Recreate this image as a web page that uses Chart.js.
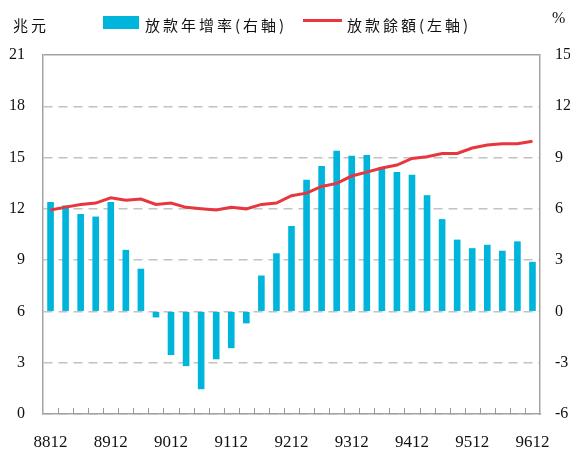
<!DOCTYPE html>
<html>
<head>
<meta charset="utf-8">
<script src="https://cdn.jsdelivr.net/npm/chart.js@4/dist/chart.umd.min.js"></script>
<style>
    body { margin: 0; background: #fff; }
    #wrap { position: relative; width: 570px; height: 450px; }
    .cjk { position: absolute; font-family: "Noto Sans CJK TC", "Noto Sans CJK SC", sans-serif; font-size: 15px; letter-spacing: 3px; color: #111; line-height: 15px; white-space: nowrap; }
    .unit { position: absolute; font-family: "Liberation Serif", serif; font-size: 16px; color: #111; line-height: 16px; }
    .box { position: absolute; left: 103px; top: 16px; width: 36px; height: 13px; background: #00b5dc; }
    .stroke { position: absolute; left: 303px; top: 19px; width: 39px; height: 3px; background: #e8363f; }
</style>
</head>
<body>
<div id="wrap">
    <canvas id="chart" width="570" height="450"></canvas>
    <span class="cjk" style="left:13px; top:17px;">兆元</span>
    <div class="box"></div>
    <span class="cjk" style="left:145px; top:17px;">放款年增率(右軸)</span>
    <div class="stroke"></div>
    <span class="cjk" style="left:347px; top:17px;">放款餘額(左軸)</span>
    <span class="unit" style="left:552px; top:10px;">%</span>
</div>
<script>
// quarterly, roc year + month
const quarters = [
    "8812", "8903", "8906", "8909", "8912", "9003", "9006", "9009", "9012",
    "9103", "9106", "9109", "9112", "9203", "9206", "9209", "9212",
    "9303", "9306", "9309", "9312", "9403", "9406", "9409", "9412",
    "9503", "9506", "9509", "9512", "9603", "9606", "9609", "9612"
];

// 放款年增率 (%), right axis
const loanGrowth = [
    6.4, 6.2, 5.7, 5.55, 6.4, 3.6, 2.5, -0.35, -2.55,
    -3.2, -4.55, -2.8, -2.15, -0.7, 2.1, 3.4, 5.0,
    7.7, 8.5, 9.4, 9.1, 9.15, 8.45, 8.15, 8.0,
    6.8, 5.4, 4.2, 3.7, 3.9, 3.55, 4.1, 2.9
];

// 放款餘額 (兆元), left axis
const loanBalance = [
    11.93, 12.1, 12.26, 12.34, 12.65, 12.5, 12.57, 12.26, 12.34,
    12.09, 12.01, 11.93, 12.09, 12.0, 12.26, 12.34, 12.77,
    12.92, 13.31, 13.49, 13.92, 14.15, 14.39, 14.56, 14.95,
    15.05, 15.24, 15.24, 15.56, 15.73, 15.81, 15.81, 15.95
];

const axisGray = "#a3a3a3";
const serif = "'Liberation Serif', 'Times New Roman', serif";

// small ticks pointing up into the plot, between the categories
const innerTicks = {
    id: "innerTicks",
    afterDraw: function (chart) {
        var x = chart.scales.x;
        var ctx = chart.ctx;
        var step = (x.right - x.left) / quarters.length;
        ctx.save();
        ctx.strokeStyle = "#999";
        ctx.lineWidth = 1;
        ctx.beginPath();
        for (var i = 1; i < quarters.length; i++) {
            var px = Math.round(x.left + i * step) + 0.5;
            ctx.moveTo(px, x.top);
            ctx.lineTo(px, x.top - 6);
        }
        ctx.stroke();
        ctx.restore();
    }
};

new Chart(document.getElementById("chart"), {
    data: {
        labels: quarters,
        datasets: [
            {
                type: "line",
                data: loanBalance,
                yAxisID: "y",
                borderColor: "#e8363f",
                borderWidth: 3,
                pointRadius: 0,
                tension: 0,
                order: 0
            },
            {
                type: "bar",
                data: loanGrowth,
                yAxisID: "y1",
                backgroundColor: "#00b5dc",
                barPercentage: 0.44,
                categoryPercentage: 1,
                order: 1
            }
        ]
    },
    options: {
        responsive: false,
        animation: false,
        layout: { padding: { top: 55, left: 0, right: 0, bottom: 0 } },
        plugins: {
            legend: { display: false },
            tooltip: { enabled: false }
        },
        scales: {
            x: {
                offset: true,
                grid: { display: false },
                border: { display: true, color: axisGray, width: 1.5 },
                ticks: {
                    autoSkip: false,
                    maxRotation: 0,
                    padding: 10,
                    color: "#111",
                    font: { family: serif, size: 17 },
                    callback: function (v, i) {
                        return i % 4 === 0 ? quarters[i] : "";
                    }
                },
                afterFit: function (s) { s.height = 36; }
            },
            y: {
                position: "left",
                min: 0,
                max: 21,
                ticks: {
                    stepSize: 3,
                    padding: 18,
                    color: "#111",
                    font: { family: serif, size: 16 }
                },
                grid: {
                    drawTicks: false,
                    lineWidth: 1.5,
                    color: function (c) {
                        return c.tick && c.tick.value === 21 ? axisGray : "#c2c2c2";
                    }
                },
                border: {
                    display: true,
                    color: axisGray,
                    width: 1.5,
                    dash: function (c) {
                        return c.tick && c.tick.value === 21 ? [] : [9, 6];
                    }
                },
                afterFit: function (s) { s.width = 43; }
            },
            y1: {
                position: "right",
                min: -6,
                max: 15,
                ticks: {
                    stepSize: 3,
                    padding: 15,
                    color: "#111",
                    font: { family: serif, size: 16 }
                },
                grid: { display: true, drawOnChartArea: false, drawTicks: false },
                border: { display: true, color: axisGray, width: 1.5 },
                afterFit: function (s) { s.width = 30; }
            }
        }
    },
    plugins: [innerTicks]
});
</script>
</body>
</html>
